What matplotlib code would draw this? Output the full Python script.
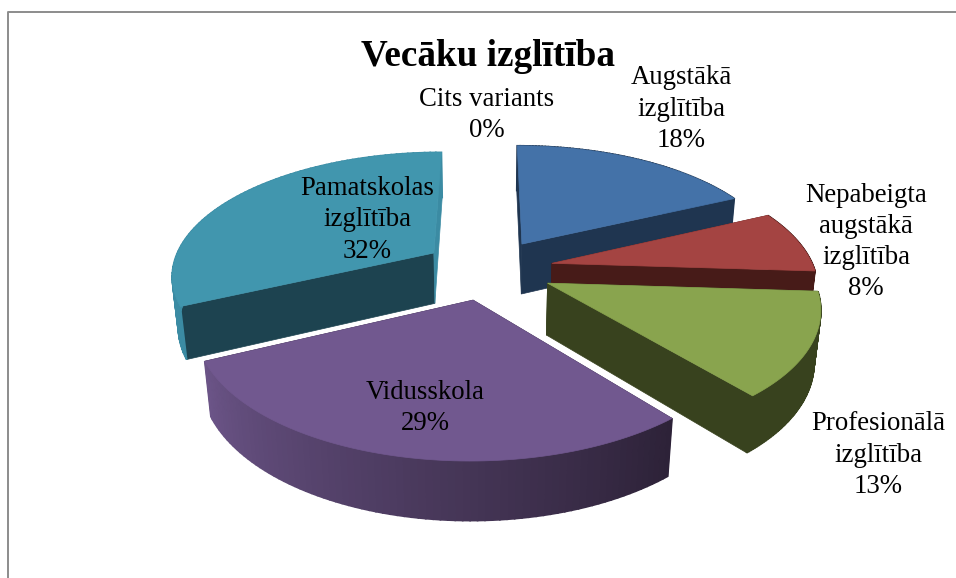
import numpy as np
import matplotlib
matplotlib.use("Agg")
import matplotlib.pyplot as plt

# dati
kategorijas = ["Augstākā\nizglītība", "Nepabeigta\naugstākā\nizglītība",
               "Profesionālā\nizglītība", "Vidusskola", "Pamatskolas\nizglītība", "Cits variants"]
vertibas = [18, 8, 13, 29, 32, 0]

krasa_augsa = ["#4472A8", "#A44442", "#89A44E", "#71588F", "#4196AE", "#DB843D"]
krasa_siena = ["#1F3550", "#471B18", "#38421E", "#2D2238", "#1D4350", "#DB843D"]
krasa_loks_sak = ["#1F3550", "#471B18", "#38421E", "#6B5487", "#3B8BA3", "#DB843D"]

etikete_xy = [(681, 109), (866, 242), (878, 455), (425, 408), (367, 220), (487, 115)]

# 3D skata parametri
CX, CY = 488, 269
F, D = 1390, 5.3
ELEV = np.radians(27.8)
H = 0.225
EXPLODE = 0.25


def proj(x, y, z):
    d = D + y * np.cos(ELEV) - z * np.sin(ELEV)
    return CX + F * x / d, CY - F * (y * np.sin(ELEV) + z * np.cos(ELEV)) / d


fig = plt.figure(figsize=(9.56, 5.78), dpi=100)
ax = fig.add_axes([0, 0, 1, 1])
ax.set_xlim(0, 956)
ax.set_ylim(578, 0)
ax.axis("off")

# rāmis
ax.plot([8, 8, 956], [578, 11.5, 11.5], color="#8C8C8C", lw=1.4)

dalas = np.array(vertibas) / sum(vertibas) * 2 * np.pi
beigas = np.cumsum(dalas)
sakums = beigas - dalas

# zīmēšanas secība: no aizmugures uz priekšu
for i in [0, 4, 1, 2, 3]:
    a0, a1 = sakums[i], beigas[i]
    vid = (a0 + a1) / 2
    ox, oy = EXPLODE * np.sin(vid), EXPLODE * np.cos(vid)
    t = np.linspace(a0, a1, 80)
    lx, ly = ox + np.sin(t), oy + np.cos(t)

    # radiālās sienas
    for a in (a0, a1):
        ex, ey = ox + np.sin(a), oy + np.cos(a)
        px, py = proj(np.array([ox, ex, ex, ox]), np.array([oy, ey, ey, oy]), np.array([0, 0, -H, -H]))
        kr = krasa_loks_sak[i] if (i == 4 and a == a1) else krasa_siena[i]
        ax.fill(px, py, color=kr, lw=0.5)

    # ārējā siena ar krāsu pāreju
    c0 = np.array(matplotlib.colors.to_rgb(krasa_loks_sak[i]))
    c1 = np.array(matplotlib.colors.to_rgb(krasa_siena[i]))
    for k in range(len(t) - 1):
        qx = np.array([lx[k], lx[k + 1], lx[k + 1], lx[k]])
        qy = np.array([ly[k], ly[k + 1], ly[k + 1], ly[k]])
        px, py = proj(qx, qy, np.array([0, 0, -H, -H]))
        if i == 3:
            s = k / (len(t) - 2)
            kr = c0 * s + c1 * (1 - s)
        elif i == 4:
            kr = c0
        else:
            kr = c1
        ax.fill(px, py, color=kr, lw=1.2)

    # augšējā virsma
    px, py = proj(np.r_[ox, lx], np.r_[oy, ly], np.zeros(len(lx) + 1))
    ax.fill(px, py, color=krasa_augsa[i], lw=0.5)

# uzraksti
serif = "Liberation Serif"
ax.text(488, 56, "Vecāku izglītība", family=serif, fontsize=26.7, fontweight="bold",
        ha="center", va="center")
for nos, v, (x, y) in zip(kategorijas, vertibas, etikete_xy):
    ax.text(x, y, f"{nos}\n{v}%", family=serif, fontsize=19.3, ha="center", va="center",
            linespacing=1.32)

fig.savefig("out.png", dpi=100)
